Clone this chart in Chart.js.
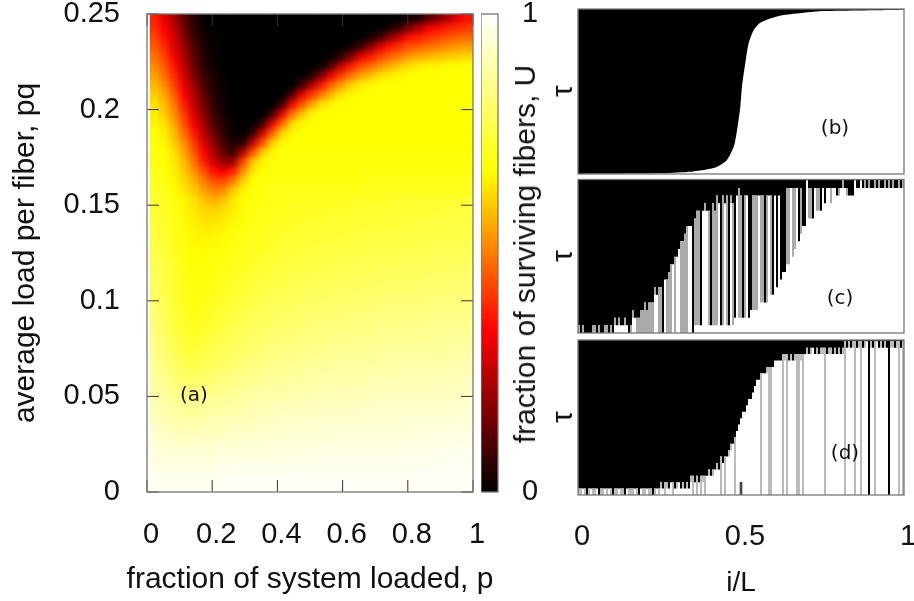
<!DOCTYPE html>
<html>
<head>
<meta charset="utf-8">
<title>fiber bundle</title>
<script src="https://cdn.jsdelivr.net/npm/chart.js@4"></script>
<style>
html, body { margin: 0; background: #fff; overflow: hidden; }
body { position: relative; width: 914px; height: 601px; }
canvas { position: absolute; }
.note { position: absolute; white-space: nowrap; color: #111; transform: translate(-50%, -50%); }
.big { font: 30px 'Liberation Sans', sans-serif; }
.up { transform: translate(-50%, -50%) rotate(-90deg); }
.tag { font: 20px 'DejaVu Sans', sans-serif; }
</style>
</head>
<body>
<canvas id="heat" width="493" height="617" style="left:0;top:-16px"></canvas>
<canvas id="bar" width="80" height="528" style="left:481px;top:-16px"></canvas>
<canvas id="panelB" width="359" height="169" style="left:555px;top:7px"></canvas>
<canvas id="panelC" width="359" height="158" style="left:555px;top:177px"></canvas>
<canvas id="panelD" width="359" height="263" style="left:555px;top:338px"></canvas>

<div class="note big" style="left:310px;top:578px">fraction of system loaded, p</div>
<div class="note big up" style="left:525px;top:254px">fraction of surviving fibers, U</div>
<div class="note big up" style="left:562px;top:91px">τ</div>
<div class="note big up" style="left:562px;top:256px">τ</div>
<div class="note big up" style="left:562px;top:417px">τ</div>
<div class="note tag" style="left:194px;top:394px">(a)</div>
<div class="note tag" style="left:835px;top:127px">(b)</div>
<div class="note tag" style="left:840px;top:297px">(c)</div>
<div class="note tag" style="left:845px;top:452px">(d)</div>

<script>
// Heat map: column centres (p), row heights (pq, top to bottom), U in percent
const pColumns = [.025,.055,.085,.115,.145,.175,.205,.235,.265,.295,.325,.355,.385,.415,.445,.475,.505,.535,.565,.595,.625,.655,.685,.715,.745,.775,.805,.835,.865,.895,.925,.955,.985];
const rowHeights = [.005,.005,.005,.005,.005,.005,.005,.005,.005,.005,.005,.005,.005,.005,.005,.005,.005,.005,.005,.005,.01,.01,.01,.01,.01,.01,.01,.01,.01,.01,.0125,.0125,.0125,.0125];
const heatRows = [
[38,30,22,12,5,1,0,0,0,0,0,0,0,0,0,0,0,0,0,0,0,0,0,0,0,0,2,5,11,17,24,31,36],
[40,33,25,14,6,2,0,0,0,0,0,0,0,0,0,0,0,0,0,0,0,0,0,0,3,8,17,24,33,35,38,40,41],
[43,36,28,17,8,3,1,0,0,0,0,0,0,0,0,0,0,0,0,0,0,0,3,9,19,28,36,38,41,43,45,47,48],
[46,39,30,20,10,4,1,0,0,0,0,0,0,0,0,0,0,0,0,0,2,9,19,31,37,41,45,47,49,51,53,54,55],
[49,42,33,22,12,5,1,0,0,0,0,0,0,0,0,0,0,0,0,7,17,31,37,42,47,50,54,56,58,59,60,61,62],
[52,45,36,25,14,6,2,0,0,0,0,0,0,0,0,0,0,2,11,26,37,44,48,53,57,60,63,65,66,66,67,67,67],
[55,48,39,28,17,8,3,1,0,0,0,0,0,0,0,0,5,17,33,42,49,55,59,63,65,66,67,67,67,67,67,67,67],
[58,52,42,31,20,10,4,1,0,0,0,0,0,0,0,9,24,37,47,55,61,65,66,67,67,67,67,67,67,67,67,67,67],
[61,55,46,34,23,12,5,1,0,0,0,0,0,0,11,31,41,50,58,64,66,67,67,67,67,67,67,67,67,67,67,67,67],
[63,58,49,37,26,15,6,2,0,0,0,0,0,9,33,45,55,63,66,67,67,67,67,67,67,67,67,67,67,67,67,67,67],
[65,60,52,41,29,18,8,3,0,0,0,0,9,31,48,59,66,67,67,67,67,67,67,67,67,67,67,67,67,67,67,67,67],
[66,63,55,44,33,21,11,4,1,0,0,8,31,47,62,66,67,67,67,67,67,67,67,67,67,67,67,67,67,67,67,67,67],
[67,65,58,48,37,25,14,6,2,0,7,28,46,62,66,67,67,67,67,67,67,67,67,67,67,67,67,67,67,67,67,67,67],
[68,66,60,52,41,29,18,9,4,5,26,44,61,66,67,67,67,67,67,67,67,67,67,67,67,67,67,67,67,67,67,67,67],
[69,67,63,55,45,34,23,13,8,24,44,60,66,68,68,68,68,68,68,68,68,68,68,68,68,68,68,68,68,68,68,68,68],
[70,67,64,58,49,38,28,20,20,43,60,66,68,68,68,68,68,68,68,68,68,68,68,68,68,68,68,68,68,68,68,68,68],
[71,68,65,60,53,44,36,33,38,52,64,67,68,68,68,68,68,68,68,68,68,68,69,69,69,69,69,69,69,69,69,69,69],
[72,69,66,62,57,50,44,43,50,61,67,68,69,69,69,69,69,69,69,69,69,69,70,70,70,70,70,70,70,70,70,70,70],
[73,70,67,64,60,55,51,52,60,66,68,69,70,70,70,70,70,70,70,70,70,70,71,71,71,71,71,71,71,71,71,71,71],
[74,71,68,66,63,59,56,59,64,67,68,69,70,70,70,71,71,71,71,71,72,72,72,72,72,73,73,73,73,73,73,73,74],
[75,72,69,67,65,62,61,64,66,68,69,70,71,71,71,72,72,72,73,73,73,73,73,74,74,74,74,74,74,75,75,75,75],
[77,73,70,68,66,65,65,67,68,69,70,71,72,72,73,73,73,74,74,74,74,75,75,75,75,75,76,76,76,76,76,76,76],
[78,75,71,68,67,67,68,69,70,71,71,72,73,74,74,75,75,75,76,76,76,76,77,77,77,77,77,77,78,78,78,78,78],
[80,76,72,69,67,68,69,70,71,72,73,74,75,75,76,76,77,77,77,78,78,78,78,79,79,79,79,79,80,80,80,80,80],
[81,77,73,69,68,69,70,72,73,74,75,76,77,77,78,78,79,79,79,80,80,80,80,81,81,81,81,81,82,82,82,82,82],
[83,79,74,70,69,70,72,74,75,76,77,78,79,79,80,80,81,81,81,82,82,82,82,83,83,83,83,83,84,84,84,84,84],
[84,80,75,71,71,72,74,76,77,78,79,80,81,81,82,82,83,83,83,84,84,84,84,85,85,85,85,85,86,86,86,86,86],
[86,82,77,74,73,75,77,78,79,80,81,82,83,83,84,84,85,85,85,86,86,86,86,86,87,87,87,87,87,87,87,88,88],
[87,84,80,77,77,78,80,81,82,83,84,85,85,86,86,87,87,87,88,88,88,88,88,89,89,89,89,89,89,89,90,90,90],
[89,86,83,81,81,82,83,84,85,86,87,87,88,88,88,89,89,89,90,90,90,90,90,91,91,91,91,91,91,91,91,92,92],
[91,89,87,86,86,87,88,88,89,89,90,90,91,91,91,91,92,92,92,92,92,92,93,93,93,93,93,93,93,93,93,93,94],
[94,92,91,90,91,91,92,92,92,93,93,93,94,94,94,94,94,94,95,95,95,95,95,95,95,95,95,96,96,96,96,96,96],
[96,95,95,95,95,95,95,96,96,96,96,96,96,96,96,97,97,97,97,97,97,97,97,97,97,97,97,97,97,97,98,98,98],
[98,98,98,98,98,98,98,99,99,99,99,99,99,99,99,99,99,99,99,99,99,99,99,99,99,99,99,99,99,99,99,99,99]
];

// Colour bar levels, percent
const barLevels = [0,1,2,3,4,5,6,7,8,9,10,11,12,13,14,15,16,17,18,19,20,21,22,23,24,25,26,27,28,29,30,31,32,33,34,35,36,37,38,39,40,41,42,43,44,45,46,47,48,49,50,51,52,53,54,55,56,57,58,59,60,61,62,63,64,65,66,67,68,69,70,71,72,73,74,75,76,77,78,79,80,81,82,83,84,85,86,87,88,89,90,91,92,93,94,95,96,97,98,99,100];

// Panel b: front between the failed and surviving fibers
const bPos = [0,.253,.335,.386,.427,.457,.478,.488,.498,.503,.513,.523,.539,.559,.59,.631,.692,.753,.998,1];
const bTau = [0,.004,.012,.024,.044,.085,.166,.267,.408,.53,.67,.79,.873,.917,.943,.964,.978,.988,.996,1];

// Panel c: per column, level where black starts and level where gray starts
const cBlack = [1,0,1,0,0,0,0,1,1,0,1,0,0,1,1,0,1,0,2,1,2,1,1,2,1,0,1,3,2,2,2,3,3,4,3,4,4,4,6,5,6,6,0,7,7,8,9,9,10,10,11,12,12,13,14,14,14,0,15,16,16,1,16,17,16,16,1,17,16,18,17,1,18,17,18,1,18,17,2,18,19,18,2,18,18,2,3,18,18,18,18,18,18,4,18,18,18,5,18,6,18,7,8,8,19,19,19,19,19,19,12,19,14,14,20,19,19,15,19,19,19,16,19,17,19,19,19,19,19,18,19,19,20,19,19,18,18,18,20,19,19,20,19,20,19,20,19,19,20,19,20,19,19,20,19,20,19,20,19,19,20,19,20];
const cGray = [0,0,0,0,0,0,0,0,0,0,0,0,0,0,0,0,0,0,1,1,1,1,1,1,1,0,0,2,2,0,0,0,0,0,0,0,0,0,5,5,0,0,0,7,0,0,0,9,0,10,11,0,0,0,0,14,14,0,1,1,1,1,16,16,16,1,1,1,1,1,17,1,1,17,1,1,17,1,2,18,2,2,2,2,18,2,3,3,3,3,18,4,4,4,4,18,5,5,18,6,18,7,8,8,9,9,19,10,11,19,12,13,14,14,20,15,15,15,19,16,16,16,19,17,19,19,17,19,19,18,18,19,19,19,18,18,18,18,20,19,19,20,19,19,19,19,19,19,19,19,19,19,19,19,19,19,19,19,19,19,19,19,19];

// Panel d: same as c
const dBlack = [1,1,1,1,0,1,1,1,1,1,0,1,1,1,1,1,1,0,1,1,1,1,1,0,1,1,1,1,1,1,0,1,1,1,1,1,1,0,1,1,1,2,1,2,2,1,2,2,1,2,2,1,2,1,2,1,3,3,2,3,2,3,3,3,3,4,3,4,4,5,4,6,5,6,6,7,8,8,9,10,11,12,13,13,14,15,15,16,17,18,18,19,19,19,20,20,20,20,21,21,21,21,22,22,22,21,22,21,22,22,22,22,22,22,23,22,23,23,22,23,22,23,23,23,22,23,23,22,23,22,23,22,23,24,23,24,23,24,24,23,24,24,23,24,24,0,24,23,24,24,23,24,23,24,23,0,24,24,23,24,24,23,24];
const dGray = [0,0,1,0,0,0,1,0,0,1,0,0,0,1,0,1,0,0,0,0,1,0,0,0,1,0,0,0,1,0,0,1,0,0,1,0,0,0,0,1,0,1,1,0,1,1,2,0,1,1,2,1,1,1,1,1,2,0,2,0,2,0,2,0,3,3,3,3,4,4,4,0,5,0,6,6,7,8,0,10,11,12,13,13,14,15,15,16,17,18,18,0,19,19,19,0,0,20,21,21,21,21,0,21,0,21,21,21,21,0,0,21,0,22,22,22,22,23,22,22,22,22,22,0,22,22,22,22,22,22,22,22,22,0,23,23,23,23,0,23,23,0,23,23,24,0,23,23,0,24,23,23,23,23,23,0,23,23,23,23,0,23,0];
const dFootCol = [81];
const dFootTop = [2];

const tickFont = 'Liberation Sans';

function hot(u) {
    const clamp = v => Math.max(0, Math.min(1, v));
    const r = Math.round(255 * clamp(u / 34));
    const g = Math.round(255 * clamp((u - 34) / 33));
    const b = Math.round(255 * clamp((u - 67) / 33));
    return `rgb(${r},${g},${b})`;
}

// Fixed axis box, and no extra room for overhanging first and last labels
function fixBox(size) {
    return s => {
        if (s.isHorizontal()) s.height = size; else s.width = size;
        s.paddingLeft = s.paddingRight = s.paddingTop = s.paddingBottom = 0;
    };
}

// Box round the plot with gnuplot style inward ticks
function frame(tickLen) {
    return {
        id: 'frame',
        afterDraw(chart) {
            const { ctx, chartArea: a, scales } = chart;
            ctx.save();
            if (tickLen) {
                ctx.strokeStyle = '#333';
                ctx.lineWidth = 1;
                ctx.beginPath();
                scales.x.ticks.forEach(t => {
                    const px = scales.x.getPixelForValue(t.value);
                    ctx.moveTo(px, a.bottom);
                    ctx.lineTo(px, a.bottom - tickLen);
                    ctx.moveTo(px, a.top);
                    ctx.lineTo(px, a.top + tickLen);
                });
                scales.y.ticks.forEach(t => {
                    const py = scales.y.getPixelForValue(t.value);
                    ctx.moveTo(a.left, py);
                    ctx.lineTo(a.left + tickLen, py);
                    ctx.moveTo(a.right, py);
                    ctx.lineTo(a.right - tickLen, py);
                });
                ctx.stroke();
            }
            ctx.strokeStyle = '#777';
            ctx.lineWidth = 1.3;
            ctx.strokeRect(a.left, a.top, a.right - a.left, a.bottom - a.top);
            ctx.restore();
        }
    };
}

// Soften the cell edges, harder in the smooth lower part
function soften(fromX, radius, splitY, lowRadius) {
    return {
        id: 'soften',
        afterDatasetsDraw(chart) {
            const { ctx, chartArea: a, scales } = chart;
            const left = scales.x.getPixelForValue(fromX);
            const split = scales.y.getPixelForValue(splitY);
            const pass = (top, r) => {
                ctx.save();
                ctx.beginPath();
                ctx.rect(left, top, a.right - left, a.bottom - top);
                ctx.clip();
                ctx.filter = `blur(${r}px)`;
                ctx.drawImage(ctx.canvas, 0, 0);
                ctx.restore();
            };
            pass(a.top, radius);
            pass(split, lowRadius);
        }
    };
}

const plain = { legend: { display: false }, tooltip: { enabled: false } };
const fmt = v => String(+Number(v).toFixed(2));

// Heat map, one stacked dataset per row, bottom row first
const heatSets = heatRows.map((row, r) => ({
    data: row.map((u, c) => ({ x: pColumns[c], y: rowHeights[r] })),
    backgroundColor: row.map(hot),
    borderWidth: 0,
    barPercentage: 1,
    categoryPercentage: 1
})).reverse();

new Chart(document.getElementById('heat'), {
    type: 'bar',
    data: { datasets: heatSets },
    options: {
        responsive: false,
        animation: false,
        layout: { padding: { top: 30, right: 20, bottom: 0, left: 0 } },
        plugins: plain,
        scales: {
            x: {
                type: 'linear', offset: false, stacked: true, min: 0, max: 1,
                afterFit: fixBox(109),
                grid: { display: false, drawTicks: false },
                border: { display: false },
                ticks: { stepSize: 0.2, padding: 26, labelOffset: 4, maxRotation: 0, color: '#111', font: { family: tickFont, size: 29 }, callback: fmt }
            },
            y: {
                stacked: true, min: 0, max: 0.25,
                afterFit: fixBox(147),
                grid: { display: false, drawTicks: false },
                border: { display: false },
                ticks: { stepSize: 0.05, padding: 27, color: '#111', font: { family: tickFont, size: 29 }, callback: fmt },
                title: { display: true, text: 'average load per fiber, pq', color: '#111', font: { family: tickFont, size: 30 }, padding: { top: 8, bottom: 0 } }
            }
        }
    },
    plugins: [soften(0.01, 3, 0.15, 9), frame(12)]
});

// Colour bar
new Chart(document.getElementById('bar'), {
    type: 'bar',
    data: {
        datasets: [{
            data: barLevels.map(v => ({ x: 1, y: v })),
            backgroundColor: barLevels.map(hot),
            borderWidth: 0,
            barPercentage: 1,
            categoryPercentage: 1
        }]
    },
    options: {
        indexAxis: 'y',
        responsive: false,
        animation: false,
        layout: { padding: { top: 30, right: 0, bottom: 20, left: 0 } },
        plugins: plain,
        scales: {
            x: { type: 'linear', display: false, min: 0, max: 1 },
            y: {
                type: 'linear', offset: false, position: 'right', min: 0, max: 100,
                afterFit: fixBox(63),
                grid: { display: false, drawTicks: false },
                border: { display: false },
                ticks: { stepSize: 100, padding: 24, color: '#111', font: { family: tickFont, size: 29 }, callback: v => String(v / 100) }
            }
        }
    },
    plugins: [frame(0)]
});

function hiddenScales(yMax) {
    return {
        x: { type: 'linear', offset: false, display: false, stacked: true, min: 0, max: 1 },
        y: { display: false, min: 0, max: yMax }
    };
}
// Left edge at 578 so each of the 163 columns is exactly 2px wide
const panelPad = { top: 2, right: 10, bottom: 2, left: 23 };

// Panel b
new Chart(document.getElementById('panelB'), {
    type: 'line',
    data: {
        datasets: [{
            data: bPos.map((x, i) => ({ x: x, y: bTau[i] })),
            borderColor: '#000',
            borderWidth: 0,
            backgroundColor: '#000',
            fill: 'end',
            pointRadius: 0,
            tension: 0.2
        }]
    },
    options: {
        responsive: false,
        animation: false,
        layout: { padding: panelPad },
        plugins: plain,
        scales: hiddenScales(1)
    },
    plugins: [frame(0)]
});

// Black bar from the given level up to the top, gray bar from its level up to the black
function columnSets(black, gray, yMax, grayColor) {
    const col = i => (i + 0.5) / black.length;
    const common = { borderWidth: 0, barPercentage: 1, categoryPercentage: 1, grouped: false, inflateAmount: 0 };
    return [
        { ...common, data: gray.map((g, i) => ({ x: col(i), y: [g, black[i]] })), backgroundColor: grayColor },
        { ...common, data: black.map((b, i) => ({ x: col(i), y: [b, yMax] })), backgroundColor: '#000' }
    ];
}

// Panel c
new Chart(document.getElementById('panelC'), {
    type: 'bar',
    data: { datasets: columnSets(cBlack, cGray, 20.1, '#aaa') },
    options: {
        responsive: false,
        animation: false,
        layout: { padding: { ...panelPad, top: 2.5 } },
        plugins: plain,
        scales: hiddenScales(20.1)
    },
    plugins: [frame(0)]
});

// Panel d, carries the shared i/L axis
const dSets = columnSets(dBlack, dGray, 24.2, '#bbb');
dSets.push({
    data: dFootCol.map((c, i) => ({ x: (c + 0.5) / dBlack.length, y: [0, dFootTop[i]] })),
    backgroundColor: '#444', borderWidth: 0, barPercentage: 1, categoryPercentage: 1, grouped: false, barThickness: 2
});
new Chart(document.getElementById('panelD'), {
    type: 'bar',
    data: { datasets: dSets },
    options: {
        responsive: false,
        animation: false,
        layout: { padding: { top: 2, right: 10, bottom: 0, left: 23 } },
        plugins: plain,
        scales: {
            x: {
                type: 'linear', offset: false, stacked: true, min: 0, max: 1,
                afterFit: fixBox(106),
                grid: { display: false, drawTicks: false },
                border: { display: false },
                ticks: { stepSize: 0.5, padding: 25, labelOffset: 4, maxRotation: 0, color: '#111', font: { family: tickFont, size: 29 }, callback: fmt },
                title: { display: true, text: 'i/L', color: '#111', font: { family: tickFont, size: 28 }, padding: { top: 0, bottom: 1 } }
            },
            y: { display: false, min: 0, max: 24.2 }
        }
    },
    plugins: [frame(0)]
});
</script>
</body>
</html>
